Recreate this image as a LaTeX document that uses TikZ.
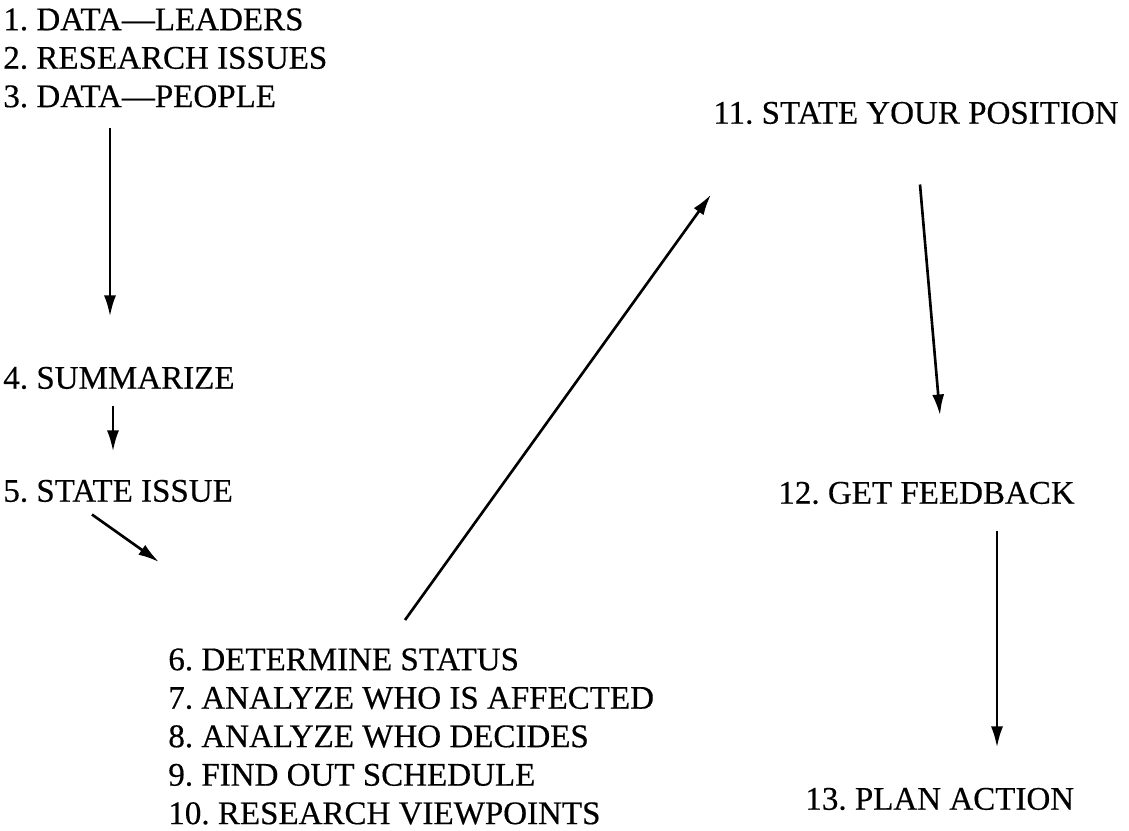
\documentclass[tikz,border=0pt]{standalone}
\usepackage{fontspec}
\setmainfont{Liberation Serif}[FakeBold=0.4]
\usepackage{tikz}
\usetikzlibrary{arrows.meta, positioning, calc}

\begin{document}
\frenchspacing
\begin{tikzpicture}[
    x=0.02cm, y=-0.02cm,
    lbl/.style={
        inner sep=0pt, align=left,
        font=\fontsize{18.8}{21.9}\selectfont
    },
    arr/.style={-{Latex[length=4.2mm, width=2.4mm]}, line width=1.5pt}
]
    \useasboundingbox (0,0) rectangle (1129,831);

    \node[lbl, anchor=north west] (data) at (3,8) {1. DATA---LEADERS\\2. RESEARCH ISSUES\\3. DATA---PEOPLE};
    \node[lbl, anchor=west] (sum)   at (3,378) {4. SUMMARIZE};
    \node[lbl, anchor=west] (issue) at (3,491) {5. STATE ISSUE};
    \node[lbl, anchor=north west] (stat) at (168,648) {6. DETERMINE STATUS\\7. ANALYZE WHO IS AFFECTED\\8. ANALYZE WHO DECIDES\\9. FIND OUT SCHEDULE\\10. RESEARCH VIEWPOINTS};
    \node[lbl, anchor=west] (pos)  at (713,113) {11. STATE YOUR POSITION};
    \node[lbl, anchor=west] (feed) at (778,493) {12. GET FEEDBACK};
    \node[lbl, anchor=west] (plan) at (805,799) {13. PLAN ACTION};

    \draw[arr] ($(data.south west)+(107,20)$) -- ($(sum.north west)+(107,-50)$);
    \draw[arr] ($(sum.south west)+(110,16)$) -- ($(issue.north west)+(110,-28)$);
    \draw[arr] ($(issue.south west)+(89,12)$) -- ($(stat.north west)+(-9,-86)$);
    \draw[arr] ($(stat.north west)+(237,-28)$) -- ($(pos.south west)+(-2,70)$);
    \draw[arr] ($(pos.south west)+(207,60)$) -- ($(feed.north west)+(162,-66)$);
    \draw[arr] ($(feed.south west)+(219,26)$) -- ($(plan.north west)+(192,-40)$);
\end{tikzpicture}
\end{document}
